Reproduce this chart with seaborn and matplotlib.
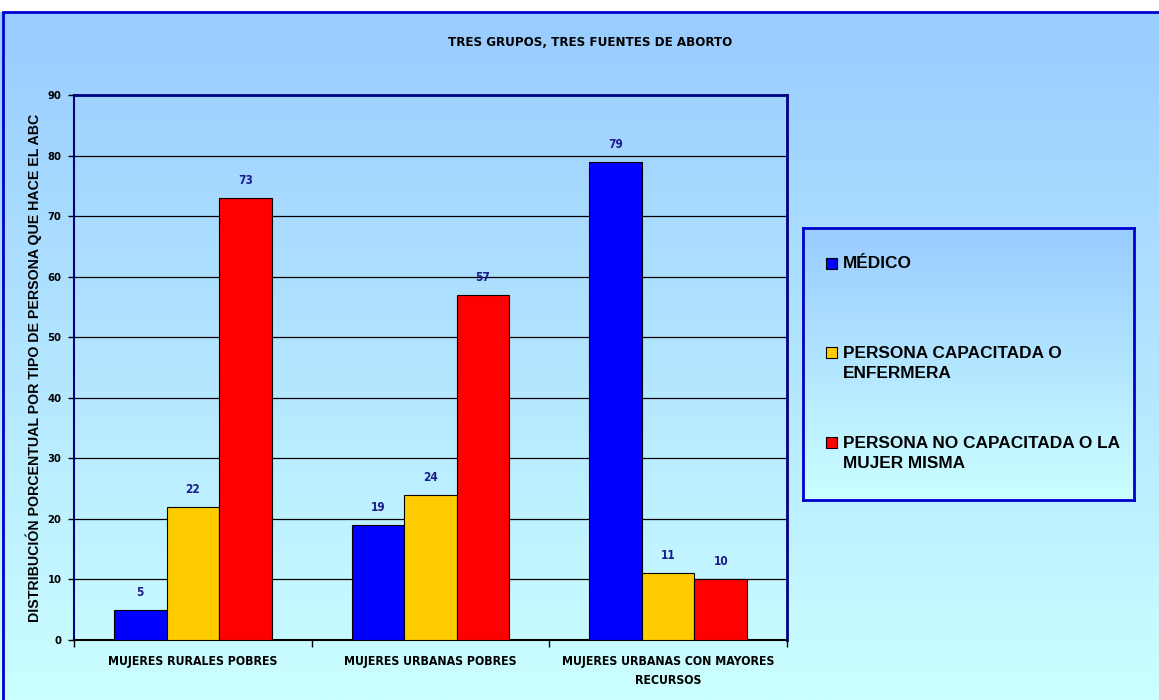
import numpy as np
import pandas as pd
import matplotlib
matplotlib.use("Agg")
import matplotlib.pyplot as plt
from matplotlib.patches import Rectangle
import seaborn as sns

title = "TRES GRUPOS, TRES FUENTES DE ABORTO"
ylabel = "DISTRIBUCIÓN PORCENTUAL POR TIPO DE PERSONA QUE HACE EL ABC"
categories = ["MUJERES RURALES POBRES", "MUJERES URBANAS POBRES",
              "MUJERES URBANAS CON MAYORES\nRECURSOS"]
series = ["MÉDICO", "PERSONA CAPACITADA O\nENFERMERA",
          "PERSONA NO CAPACITADA O LA\nMUJER MISMA"]
medico = [5, 19, 79]
capacitada = [22, 24, 11]
no_capacitada = [73, 57, 10]
yticks = [0, 10, 20, 30, 40, 50, 60, 70, 80, 90]
colors = ["#0000FF", "#FFCC00", "#FF0000"]

df = pd.DataFrame({
    "grupo": categories * 3,
    "serie": [series[0]] * 3 + [series[1]] * 3 + [series[2]] * 3,
    "valor": medico + capacitada + no_capacitada,
})

sns.set_theme(style="white")
plt.rcParams["font.family"] = ["DejaVu Sans"]
plt.rcParams["text.color"] = "black"
plt.rcParams["axes.labelcolor"] = "black"
plt.rcParams["xtick.color"] = "black"
plt.rcParams["ytick.color"] = "black"
narrow = dict(family="DejaVu Sans", stretch="condensed", weight="bold")
arial = ["Liberation Sans", "DejaVu Sans"]

W, H = 1159, 700
fig = plt.figure(figsize=(W / 100, H / 100), dpi=100)
fig.patch.set_facecolor("white")

top = np.array([0x99, 0xCC, 0xFF]) / 255
bot = np.array([0xCC, 0xFF, 0xFF]) / 255
grad = np.linspace(0, 1, 256).reshape(-1, 1)
img = top[None, None, :] * (1 - grad[:, :, None]) + bot[None, None, :] * grad[:, :, None]

# gradient background
bg = fig.add_axes([0, 0, 1, 1], zorder=-5)
bg.imshow(img, extent=[0, 1, 0, (H - 12) / H], aspect="auto", origin="upper")
bg.set_xlim(0, 1)
bg.set_ylim(0, 1)
bg.axis("off")
bg.add_patch(Rectangle((3 / W, -0.1), 1.2, 0.1 + (H - 12) / H, fill=False,
                       edgecolor="#0000CC", lw=2))

ax = fig.add_axes([74 / W, 1 - 640 / H, (787 - 74) / W, (640 - 95) / H])
ax.set_facecolor("none")
sns.barplot(data=df, x="grupo", y="valor", hue="serie", order=categories,
            hue_order=series, palette=colors, saturation=1, width=0.664, gap=0,
            edgecolor="black", linewidth=0.8, ax=ax, legend=False, zorder=3)

ax.set_ylim(0, 90)
ax.set_xlim(-0.5, 2.5)
ax.set_yticks(yticks)
ax.set_yticklabels([str(v) for v in yticks], fontsize=8, **narrow)
ax.yaxis.grid(True, color="black", lw=0.9, zorder=0)
ax.set_axisbelow(True)
ax.tick_params(axis="y", length=4, width=1, color="black", pad=5, left=True)
ax.set_xticks([0, 1, 2])
ax.set_xticklabels(categories, fontsize=8.8, linespacing=1.6, **narrow)
ax.tick_params(axis="x", length=0, pad=11)
ax.set_xticks([-0.5, 0.5, 1.5, 2.5], minor=True)
ax.tick_params(axis="x", which="minor", length=5, width=1, color="black", bottom=True)
ax.set_xlabel("")
ax.set_ylabel(ylabel, fontsize=10.2, fontweight="bold", family=arial)
ax.yaxis.set_label_coords(-0.0445, 0.5)

for s in ["top", "right", "left"]:
    ax.spines[s].set_color("#000080")
    ax.spines[s].set_linewidth(2)
ax.spines["left"].set_linewidth(1.5)
ax.spines["bottom"].set_color("black")
ax.spines["bottom"].set_linewidth(1.5)

for cont in ax.containers:
    ax.bar_label(cont, fmt="%d", padding=8, fontsize=8.5, color="#1C1C8C", **narrow)

fig.text(590 / W, 1 - 42 / H, title, ha="center", va="center", fontsize=9.5, **narrow)

# legend box
lx0, ly0, lx1, ly1 = 803, 228, 1134, 500
lw_, lh_ = lx1 - lx0, ly1 - ly0
lax = fig.add_axes([lx0 / W, 1 - ly1 / H, lw_ / W, lh_ / H])
lax.imshow(img, extent=[0, 1, 0, 1], aspect="auto", origin="upper")
lax.set_xlim(0, 1)
lax.set_ylim(0, 1)
lax.set_xticks([])
lax.set_yticks([])
for s in lax.spines.values():
    s.set_color("#0000CC")
    s.set_linewidth(2)

# (first-line centre y, block centre y) in pixels of each legend entry
entry_first = [263, 352, 442]
entry_center = [263, 363.5, 453.5]
for lab, col, yf, yc in zip(series, colors, entry_first, entry_center):
    mx = (826 - lx0) / lw_
    mw = 11 / lw_
    mh = 11 / lh_
    my = (ly1 - yf) / lh_
    lax.add_patch(Rectangle((mx, my - mh / 2), mw, mh, facecolor=col,
                            edgecolor="black", lw=0.8, zorder=3))
    lax.text((843 - lx0) / lw_, (ly1 - yc) / lh_, lab, ha="left", va="center",
             fontsize=12.4, fontweight="bold", family=arial, linespacing=1.5)

fig.savefig("out.png", dpi=100)
